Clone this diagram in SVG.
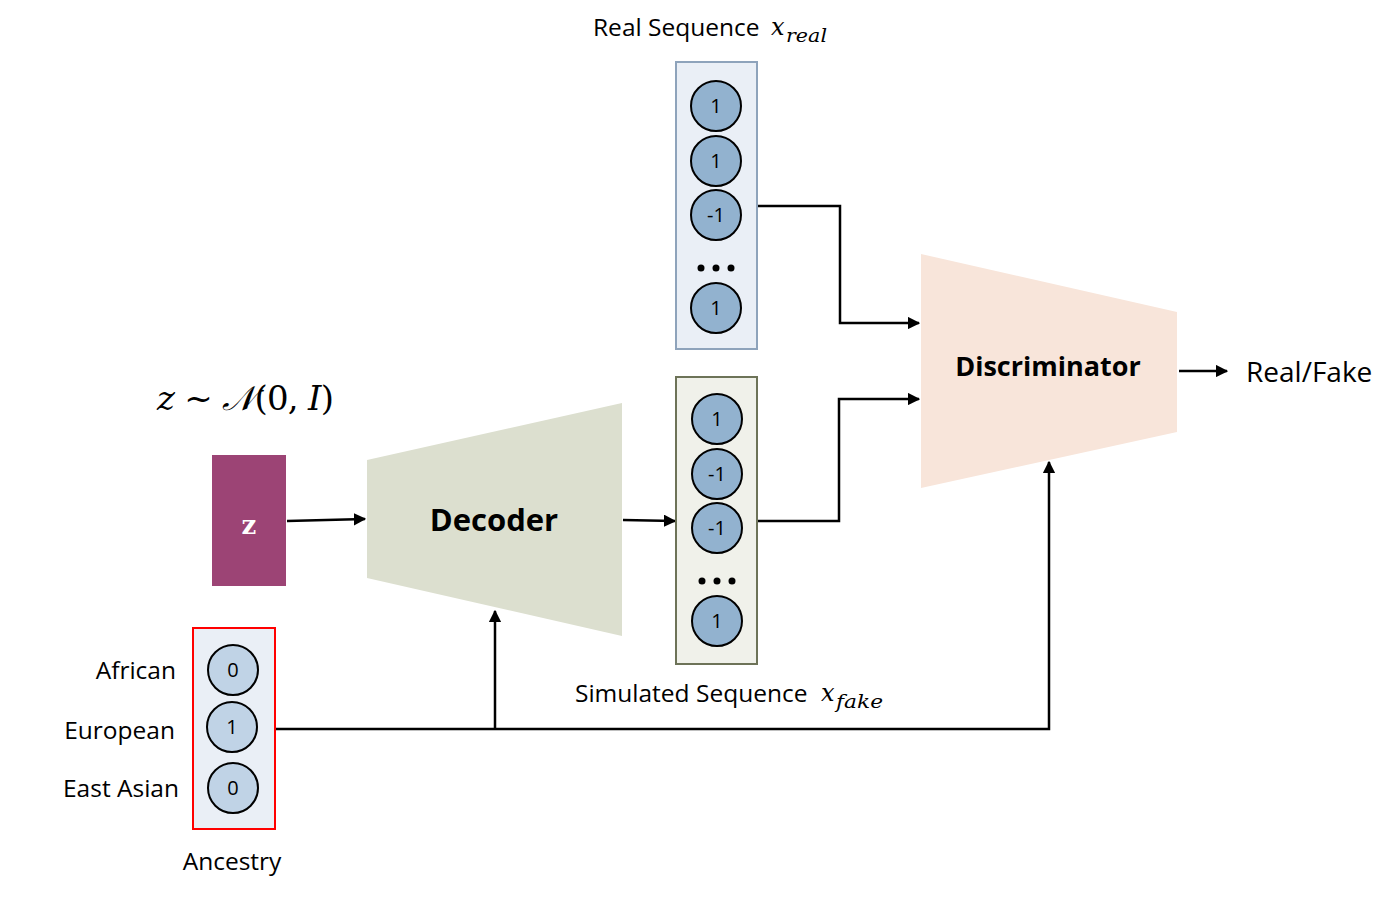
<svg xmlns="http://www.w3.org/2000/svg" width="1395" height="897" viewBox="0 0 1395 897">
<style>
.t{font-family:"Open Sans","Noto Sans",sans-serif;fill:#000}
.m{font-family:"DejaVu Serif","Liberation Serif",serif;font-style:italic;fill:#000}
.u{font-style:normal}
.c{fill:#92b2cf;stroke:#000;stroke-width:2}
.ca{fill:#c0d3e6;stroke:#000;stroke-width:2}
.n{font-family:"Open Sans","Noto Sans",sans-serif;font-size:20px;text-anchor:middle;fill:#000}
.e{fill:none;stroke:#000;stroke-width:2.5}
</style>
<defs>
<marker id="ah" viewBox="0 0 10 10" refX="9" refY="5" markerWidth="5" markerHeight="5" orient="auto" markerUnits="strokeWidth"><path d="M0,0 L10,5 L0,10 z" fill="#000"/></marker>
</defs>
<g id="connectors">
<path class="e" d="M287,521 L365,519" marker-end="url(#ah)"/>
<path class="e" d="M623,520 L675,521" marker-end="url(#ah)"/>
<path class="e" d="M758,206 L840,206 L840,323 L919,323" marker-end="url(#ah)"/>
<path class="e" d="M758,521 L839,521 L839,399 L919,399" marker-end="url(#ah)"/>
<path class="e" d="M1179,371 L1227,371" marker-end="url(#ah)"/>
<path class="e" d="M275,729 L1049,729 L1049,462" marker-end="url(#ah)"/>
<path class="e" d="M495,729 L495,611" marker-end="url(#ah)"/>
</g>
<g id="real-seq">
<text class="t" x="593" y="36" font-size="24.5">Real Sequence</text>
<text class="m" x="771" y="35" font-size="24">x</text>
<text class="m" x="786" y="42" font-size="18" textLength="41" lengthAdjust="spacingAndGlyphs">real</text>
<rect x="676" y="62" width="81" height="287" fill="#eaeff6" stroke="#8ea3bb" stroke-width="2"/>
<circle class="c" cx="716" cy="106" r="25"/><text class="n" x="716" y="113">1</text>
<circle class="c" cx="716" cy="161" r="25"/><text class="n" x="716" y="168">1</text>
<circle class="c" cx="716" cy="215" r="25"/><text class="n" x="716" y="222">-1</text>
<circle cx="701" cy="268" r="3.5"/><circle cx="716" cy="268" r="3.5"/><circle cx="731" cy="268" r="3.5"/>
<circle class="c" cx="716" cy="308" r="25"/><text class="n" x="716" y="315">1</text>
</g>
<g id="sim-seq">
<rect x="676" y="377" width="81" height="287" fill="#f0f1ea" stroke="#6d7358" stroke-width="2"/>
<circle class="c" cx="717" cy="419" r="25"/><text class="n" x="717" y="426">1</text>
<circle class="c" cx="717" cy="474" r="25"/><text class="n" x="717" y="481">-1</text>
<circle class="c" cx="717" cy="528" r="25"/><text class="n" x="717" y="535">-1</text>
<circle cx="702" cy="581" r="3.5"/><circle cx="717" cy="581" r="3.5"/><circle cx="732" cy="581" r="3.5"/>
<circle class="c" cx="717" cy="621" r="25"/><text class="n" x="717" y="628">1</text>
<text class="t" x="575" y="702" font-size="24.5">Simulated Sequence</text>
<text class="m" x="821" y="701" font-size="24">x</text>
<text class="m" x="836" y="708" font-size="18" textLength="47" lengthAdjust="spacingAndGlyphs">fake</text>
</g>
<g id="z-label">
<text class="m" x="157" y="410" font-size="34" textLength="177" lengthAdjust="spacing">z <tspan class="u">~</tspan> 𝒩<tspan class="u">(0,</tspan> I<tspan class="u">)</tspan></text>
</g>
<g id="z">
<rect x="212" y="455" width="74" height="131" fill="#9c4475"/>
<text x="249" y="534" font-family="DejaVu Serif,serif" font-size="26" font-weight="bold" fill="#fff" text-anchor="middle">z</text>
</g>
<g id="decoder">
<polygon points="367,460 622,403 622,636 367,578" fill="#dcdfcf"/>
<text class="t" x="494" y="531" font-size="31" font-weight="bold" text-anchor="middle">Decoder</text>
</g>
<g id="discriminator">
<polygon points="921,254 1177,312 1177,432 921,488" fill="#f8e5da"/>
<text class="t" x="1048" y="376" font-size="27" font-weight="bold" text-anchor="middle">Discriminator</text>
</g>
<g id="output">
<text class="t" x="1246" y="382" font-size="28">Real/Fake</text>
</g>
<g id="ancestry">
<rect x="193" y="628" width="82" height="201" fill="#eaeff6" stroke="#f00" stroke-width="2"/>
<circle class="ca" cx="233" cy="670" r="25"/><text class="n" x="233" y="677">0</text>
<circle class="ca" cx="232" cy="727" r="25"/><text class="n" x="232" y="734">1</text>
<circle class="ca" cx="233" cy="788" r="25"/><text class="n" x="233" y="795">0</text>
<text class="t" x="176" y="679" font-size="24.5" text-anchor="end">African</text>
<text class="t" x="175" y="739" font-size="24.5" text-anchor="end">European</text>
<text class="t" x="179" y="797" font-size="24.5" text-anchor="end">East Asian</text>
<text class="t" x="232" y="870" font-size="24.5" text-anchor="middle">Ancestry</text>
</g>
</svg>
